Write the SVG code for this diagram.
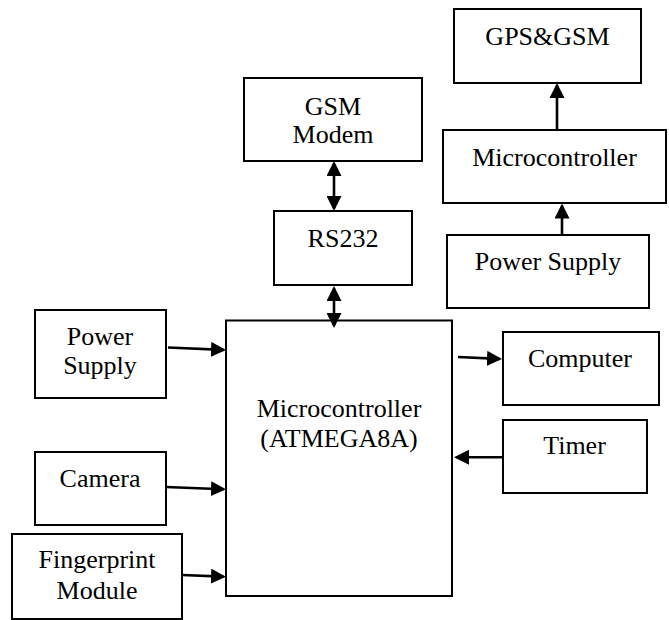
<svg xmlns="http://www.w3.org/2000/svg" width="669" height="620" viewBox="0 0 669 620">
<style>
.box{fill:#fff;stroke:#000;stroke-width:2}
.t{font-family:"Liberation Serif","Times New Roman",serif;font-size:26px;fill:#000;text-anchor:middle}
.c{stroke:#000;stroke-width:2.6;fill:none}
</style>
<defs>
<marker id="ah" viewBox="0 0 15 15" refX="12.5" refY="7.5" markerWidth="15" markerHeight="15" markerUnits="userSpaceOnUse" orient="auto-start-reverse">
<path d="M0,0 L15,7.5 L0,15 z" fill="#000"/>
</marker>
</defs>
<rect width="669" height="620" fill="#fff"/>
<g id="gpsgsm"><rect class="box" x="454" y="9" width="187" height="74"/><text class="t" x="547.5" y="45">GPS&amp;GSM</text></g>
<g id="mc2"><rect class="box" x="443" y="130" width="223" height="73"/><text class="t" x="554.5" y="166">Microcontroller</text></g>
<g id="ps2"><rect class="box" x="447" y="235" width="202" height="73"/><text class="t" x="548" y="270">Power Supply</text></g>
<g id="gsm"><rect class="box" x="244" y="78" width="178" height="83"/><text class="t" x="333" y="115">GSM</text><text class="t" x="333" y="143">Modem</text></g>
<g id="rs232"><rect class="box" x="274" y="211" width="138" height="74"/><text class="t" x="343" y="247">RS232</text></g>
<g id="main"><rect class="box" x="226" y="320.5" width="226" height="275.5"/><text class="t" x="339" y="417">Microcontroller</text><text class="t" x="339" y="447">(ATMEGA8A)</text></g>
<g id="ps1"><rect class="box" x="35" y="310" width="131" height="88"/><text class="t" x="100" y="345">Power</text><text class="t" x="100" y="374">Supply</text></g>
<g id="camera"><rect class="box" x="35" y="452" width="131" height="73"/><text class="t" x="100" y="487">Camera</text></g>
<g id="finger"><rect class="box" x="12" y="534" width="170" height="85"/><text class="t" x="97" y="568">Fingerprint</text><text class="t" x="97" y="599">Module</text></g>
<g id="computer"><rect class="box" x="503" y="332" width="156" height="73"/><text class="t" x="580" y="367">Computer</text></g>
<g id="timer"><rect class="box" x="503" y="420" width="144" height="73"/><text class="t" x="574.5" y="454">Timer</text></g>
<g id="connectors">
<line class="c" x1="334" y1="163.5" x2="334" y2="208.5" marker-start="url(#ah)" marker-end="url(#ah)"/>
<line class="c" x1="334" y1="288.5" x2="334" y2="325.5" marker-start="url(#ah)" marker-end="url(#ah)"/>
<line class="c" x1="557" y1="130" x2="557" y2="85.5" marker-end="url(#ah)"/>
<line class="c" x1="562" y1="235" x2="562" y2="206" marker-end="url(#ah)"/>
<line class="c" x1="168" y1="347.5" x2="223.5" y2="349.9" marker-end="url(#ah)"/>
<line class="c" x1="166" y1="487" x2="223.5" y2="489.2" marker-end="url(#ah)"/>
<line class="c" x1="182" y1="575" x2="223.5" y2="576.6" marker-end="url(#ah)"/>
<line class="c" x1="458" y1="357" x2="499.5" y2="358.9" marker-end="url(#ah)"/>
<line class="c" x1="503" y1="457.3" x2="456.5" y2="457.3" marker-end="url(#ah)"/>
</g>
</svg>
